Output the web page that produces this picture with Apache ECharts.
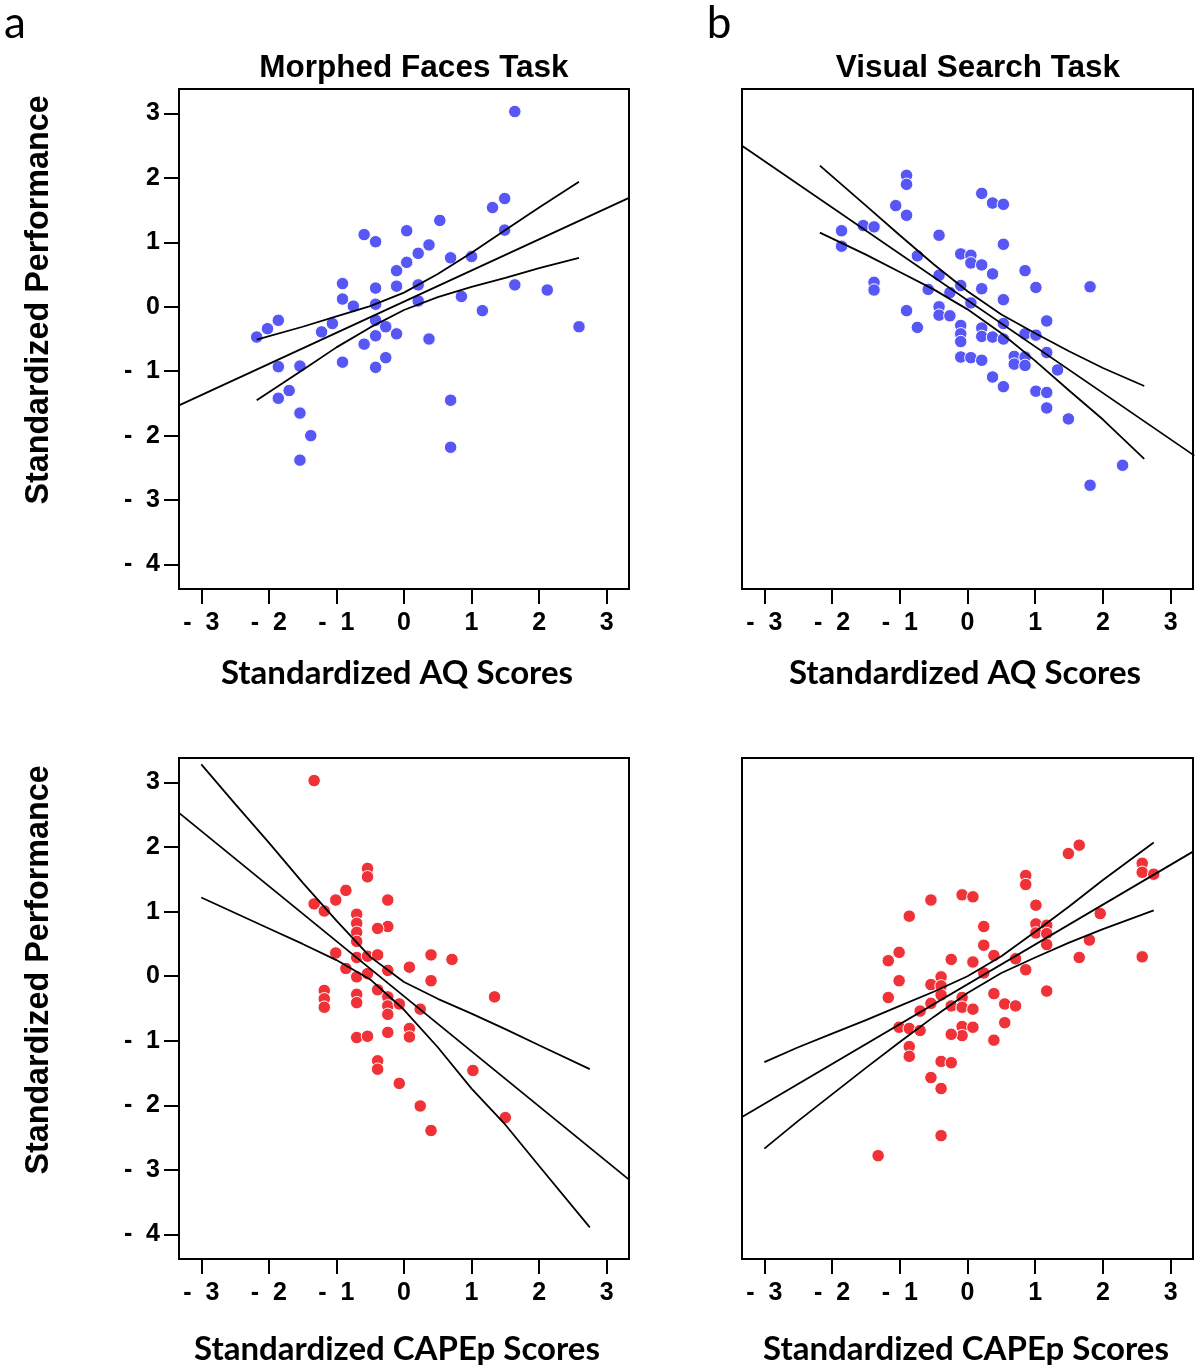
<!DOCTYPE html>
<html>
<head>
<meta charset="utf-8">
<script src="https://cdn.jsdelivr.net/npm/echarts@6/dist/echarts.min.js"></script>
<style>
html,body{margin:0;padding:0;background:#fff;}
#chart{width:1200px;height:1371px;}
</style>
</head>
<body>
<div id="chart"></div>
<script>
// ---------- DATA ----------
const xTicks = [-3, -2, -1, 0, 1, 2, 3];
const yTicks = [-4, -3, -2, -1, 0, 1, 2, 3];
const panelTitles = ['Morphed Faces Task', 'Visual Search Task'];
const xNames = ['Standardized AQ Scores', 'Standardized CAPEp Scores'];
const yName = 'Standardized Performance';
const panelLetters = ['a', 'b'];

// Panel a: Morphed Faces vs AQ
const faceAQPoints = [[1.64,3.03],[1.49,1.68],[1.31,1.54],[0.53,1.34],[0.04,1.18],[-0.59,1.12],[-0.42,1.01],[1.49,1.19],[0.37,0.96],[0.21,0.83],[0.04,0.69],[-0.11,0.56],[0.69,0.76],[1.00,0.78],[-0.91,0.36],[-0.42,0.29],[-0.11,0.32],[0.21,0.34],[1.64,0.34],[2.12,0.26],[-0.91,0.12],[-0.75,0.01],[-0.42,0.04],[0.21,0.09],[0.85,0.16],[1.16,-0.06],[-1.86,-0.21],[-2.02,-0.34],[-2.18,-0.47],[-1.06,-0.26],[-1.22,-0.39],[-0.42,-0.21],[-0.27,-0.31],[-0.42,-0.45],[-0.11,-0.42],[-0.59,-0.58],[0.37,-0.50],[2.59,-0.31],[-0.91,-0.86],[-0.42,-0.94],[-0.27,-0.79],[-1.86,-0.93],[-1.54,-0.92],[-1.70,-1.30],[-1.86,-1.42],[-1.54,-1.65],[-1.38,-2.00],[-1.54,-2.38],[0.69,-1.45],[0.69,-2.18]];
const faceAQFit = [[-3.33,-1.53],[3.33,1.69]];
const faceAQUpper = [[-2.18,-0.51],[-1.5,-0.31],[-1.0,-0.15],[-0.5,0.01],[0,0.22],[0.5,0.51],[1.0,0.84],[1.5,1.19],[2.0,1.54],[2.59,1.94]];
const faceAQLower = [[-2.18,-1.45],[-1.5,-0.98],[-1.0,-0.63],[-0.5,-0.32],[0,-0.05],[0.5,0.15],[1.0,0.31],[1.5,0.45],[2.0,0.60],[2.59,0.76]];

// Panel b: Visual Search vs AQ
const searchAQPoints = [[-0.90,2.04],[-0.90,1.90],[-1.06,1.57],[-0.90,1.42],[0.21,1.76],[0.37,1.61],[0.53,1.59],[-1.54,1.26],[-1.38,1.24],[-1.86,1.18],[-1.86,0.94],[-0.42,1.11],[0.53,0.97],[-0.74,0.79],[-0.10,0.82],[0.05,0.80],[0.05,0.68],[0.21,0.65],[0.37,0.51],[0.85,0.56],[-0.42,0.49],[-1.38,0.38],[-1.38,0.26],[-0.58,0.27],[-0.26,0.22],[-0.10,0.33],[0.21,0.28],[1.01,0.30],[1.81,0.31],[0.05,0.06],[0.53,0.11],[-0.90,-0.06],[-0.42,0.00],[-0.42,-0.13],[-0.26,-0.14],[-0.74,-0.32],[-0.10,-0.29],[-0.10,-0.42],[-0.10,-0.54],[0.21,-0.33],[0.21,-0.46],[0.37,-0.47],[0.53,-0.26],[0.53,-0.50],[1.17,-0.22],[0.85,-0.42],[1.01,-0.44],[-0.10,-0.78],[0.05,-0.79],[0.21,-0.83],[0.69,-0.77],[0.69,-0.89],[0.85,-0.78],[0.85,-0.91],[1.17,-0.71],[1.33,-0.98],[0.37,-1.09],[0.53,-1.24],[1.01,-1.31],[1.17,-1.33],[1.17,-1.57],[1.49,-1.74],[2.29,-2.46],[1.81,-2.77]];
const searchAQFit = [[-3.33,2.50],[3.35,-2.31]];
const searchAQUpper = [[-2.18,2.19],[-1.5,1.57],[-1.0,1.11],[-0.5,0.66],[0,0.24],[0.5,-0.12],[1.0,-0.41],[1.5,-0.69],[2.0,-0.95],[2.61,-1.23]];
const searchAQLower = [[-2.18,1.15],[-1.5,0.81],[-1.0,0.54],[-0.5,0.27],[0,-0.04],[0.5,-0.41],[1.0,-0.84],[1.5,-1.30],[2.0,-1.75],[2.61,-2.36]];

// Panel c: Morphed Faces vs CAPEp
const faceCAPEpPoints = [[-1.33,3.03],[-0.54,1.67],[-0.54,1.54],[-0.86,1.33],[-1.01,1.18],[-1.33,1.12],[-1.18,1.01],[-0.24,1.18],[-0.70,0.96],[-0.70,0.82],[-0.24,0.77],[-0.39,0.74],[-0.70,0.68],[-0.70,0.54],[-1.01,0.36],[-0.70,0.29],[-0.54,0.31],[-0.39,0.33],[0.40,0.33],[0.71,0.26],[0.08,0.14],[-0.86,0.12],[-0.24,0.09],[-0.70,-0.01],[-0.54,0.04],[0.40,-0.07],[-1.18,-0.22],[-1.18,-0.35],[-1.18,-0.48],[-0.70,-0.28],[-0.70,-0.41],[-0.39,-0.21],[-0.24,-0.32],[-0.24,-0.46],[-0.24,-0.59],[-0.07,-0.43],[0.24,-0.51],[1.34,-0.32],[0.08,-0.81],[0.08,-0.94],[-0.24,-0.87],[-0.70,-0.95],[-0.54,-0.93],[-0.39,-1.31],[-0.39,-1.44],[-0.07,-1.66],[1.02,-1.46],[0.24,-2.01],[0.40,-2.39],[1.50,-2.19]];
const faceCAPEpFit = [[-3.33,2.53],[3.33,-3.15]];
const faceCAPEpUpper = [[-3.0,3.28],[-2.5,2.67],[-2.0,2.07],[-1.5,1.45],[-1.0,0.86],[-0.5,0.30],[0,-0.09],[0.5,-0.35],[1.0,-0.58],[1.5,-0.82],[2.0,-1.07],[2.75,-1.44]];
const faceCAPEpLower = [[-3.0,1.22],[-2.5,0.98],[-2.0,0.74],[-1.5,0.50],[-1.0,0.25],[-0.5,-0.05],[0,-0.52],[0.5,-1.10],[1.0,-1.74],[1.5,-2.30],[2.0,-2.94],[2.75,-3.89]];

// Panel d: Visual Search vs CAPEp
const searchCAPEpPoints = [[1.65,2.03],[1.49,1.90],[2.58,1.75],[2.58,1.61],[2.75,1.58],[0.86,1.56],[0.86,1.42],[-0.08,1.26],[0.08,1.23],[-0.54,1.18],[1.01,1.10],[-0.86,0.93],[1.96,0.97],[0.24,0.77],[1.01,0.81],[1.17,0.79],[1.01,0.67],[1.17,0.66],[1.17,0.49],[1.80,0.56],[0.24,0.48],[-1.01,0.37],[-1.17,0.24],[-0.24,0.26],[0.08,0.22],[0.39,0.32],[0.71,0.27],[1.65,0.29],[2.58,0.30],[0.86,0.10],[0.24,0.05],[-1.01,-0.07],[-0.39,-0.01],[-0.54,-0.13],[-0.39,-0.15],[-0.39,-0.29],[-1.17,-0.33],[-0.08,-0.33],[-0.54,-0.42],[-0.24,-0.46],[-0.08,-0.48],[0.08,-0.51],[0.39,-0.27],[1.17,-0.23],[0.55,-0.43],[0.71,-0.46],[-0.70,-0.54],[-1.01,-0.79],[-0.86,-0.81],[-0.70,-0.84],[-0.08,-0.78],[-0.08,-0.92],[0.08,-0.79],[-0.24,-0.90],[0.55,-0.72],[0.39,-0.99],[-0.86,-1.09],[-0.86,-1.24],[-0.39,-1.32],[-0.24,-1.34],[-0.54,-1.57],[-0.39,-1.74],[-0.39,-2.47],[-1.32,-2.78]];
const searchCAPEpFit = [[-3.33,-2.18],[3.33,1.93]];
const searchCAPEpUpper = [[-3.0,-1.33],[-2.5,-1.10],[-2.0,-0.89],[-1.5,-0.68],[-1.0,-0.46],[-0.5,-0.24],[0,0.00],[0.5,0.31],[1.0,0.69],[1.5,1.08],[2.0,1.49],[2.75,2.07]];
const searchCAPEpLower = [[-3.0,-2.67],[-2.5,-2.24],[-2.0,-1.83],[-1.5,-1.42],[-1.0,-1.02],[-0.5,-0.63],[0,-0.26],[0.5,0.05],[1.0,0.29],[1.5,0.52],[2.0,0.73],[2.75,1.02]];

// ---------- STYLE / LAYOUT ----------
const BLUE = '#5757F5';
const RED = '#EE3237';
const TICKFONT = '"Liberation Sans", Arial, Helvetica, sans-serif';
const NAMEFONT = 'Lato, "Open Sans", sans-serif';

const panels = [
  {grid:{left:179, top:89, width:450, height:500}, pts:faceAQPoints, fit:faceAQFit, up:faceAQUpper, lo:faceAQLower, color:BLUE, yLabels:true},
  {grid:{left:742, top:89, width:451, height:500}, pts:searchAQPoints, fit:searchAQFit, up:searchAQUpper, lo:searchAQLower, color:BLUE, yLabels:false},
  {grid:{left:179, top:758, width:450, height:501}, pts:faceCAPEpPoints, fit:faceCAPEpFit, up:faceCAPEpUpper, lo:faceCAPEpLower, color:RED, yLabels:true},
  {grid:{left:742, top:758, width:451, height:501}, pts:searchCAPEpPoints, fit:searchCAPEpFit, up:searchCAPEpUpper, lo:searchCAPEpLower, color:RED, yLabels:false}
];

function fmt(v){ return v < 0 ? '-  ' + Math.abs(v) : String(v); }

const grids = [], xAxes = [], yAxes = [], series = [];
panels.forEach((p, i) => {
  grids.push(Object.assign({show:true, borderColor:'#000', borderWidth:2, backgroundColor:'transparent'}, p.grid));
  xAxes.push({
    type:'value', gridIndex:i, min:-3.33, max:3.33,
    axisLine:{show:false, onZero:false},
    splitLine:{show:false},
    axisTick:{show:true, length:15, customValues:xTicks, lineStyle:{color:'#000', width:2}},
    axisLabel:{customValues:xTicks, formatter:fmt, margin:22, color:'#000', fontSize:25, fontWeight:'bold', fontFamily:TICKFONT}
  });
  yAxes.push({
    type:'value', gridIndex:i, min:-4.38, max:3.38,
    axisLine:{show:false, onZero:false},
    splitLine:{show:false},
    axisTick:{show:p.yLabels, length:15, customValues:yTicks, lineStyle:{color:'#000', width:2}},
    axisLabel:{show:p.yLabels, customValues:yTicks, formatter:fmt, margin:19, color:'#000', fontSize:25, fontWeight:'bold', fontFamily:TICKFONT}
  });
  series.push({type:'scatter', xAxisIndex:i, yAxisIndex:i, data:p.pts, symbolSize:12.5,
    itemStyle:{color:p.color, borderColor:'#fff', borderWidth:1, opacity:1}, z:2, silent:true});
  [p.fit, p.up, p.lo].forEach(d => series.push({type:'line', xAxisIndex:i, yAxisIndex:i, data:d, showSymbol:false, symbol:'none',
    smooth:false, lineStyle:{color:'#000', width:1.8}, z:3, silent:true}));
});

function txt(text, x, y, font, opts){
  return Object.assign({type:'text', x:x, y:y, silent:true,
    style:{text:text, font:font, fill:'#000', align:'center', verticalAlign:'middle'}}, opts || {});
}
const graphics = [
  txt(panelLetters[0], 15, 24, 'normal 44px ' + NAMEFONT),
  txt(panelLetters[1], 719, 24, 'normal 44px ' + NAMEFONT),
  txt(panelTitles[0], 414, 68, 'bold 31.5px ' + TICKFONT),
  txt(panelTitles[1], 978, 68, 'bold 31.5px ' + TICKFONT),
  txt(yName, 39, 300, 'bold 32.3px ' + TICKFONT, {rotation:Math.PI/2}),
  txt(yName, 39, 970, 'bold 32.3px ' + TICKFONT, {rotation:Math.PI/2}),
  txt(xNames[0], 397, 673, 'bold 33px ' + NAMEFONT),
  txt(xNames[0], 965, 673, 'bold 33px ' + NAMEFONT),
  txt(xNames[1], 397, 1349, 'bold 33px ' + NAMEFONT),
  txt(xNames[1], 966, 1349, 'bold 33px ' + NAMEFONT)
];

const chart = echarts.init(document.getElementById('chart'), null, {renderer:'canvas'});
chart.setOption({
  animation:false,
  backgroundColor:'#fff',
  grid:grids, xAxis:xAxes, yAxis:yAxes, series:series, graphic:graphics
});
</script>
</body>
</html>
